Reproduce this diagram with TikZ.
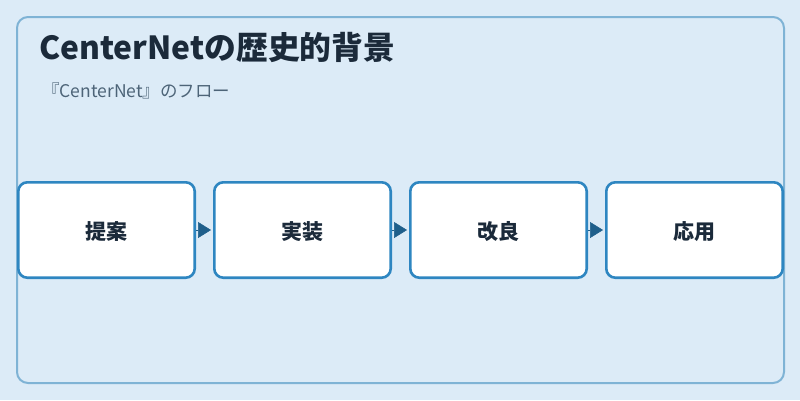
\documentclass[tikz,border=0pt]{standalone}
\usepackage{fontspec}
\setmainfont{Noto Sans CJK JP}
\usetikzlibrary{arrows.meta}
\definecolor{bg}{HTML}{DCEBF7}
\definecolor{framec}{HTML}{7FB3D5}
\definecolor{boxc}{HTML}{2E86C1}
\definecolor{arrowc}{HTML}{1F5F8B}
\definecolor{titlec}{HTML}{1B2A3A}
\definecolor{subc}{HTML}{4D6478}
\newcommand{\lowerlabel}[1]{\raisebox{0pt}[\dimexpr\height+3pt\relax]{#1}}
\begin{document}
\begin{tikzpicture}[x=1pt,y=-1pt,
  stepbox/.style={draw=boxc, fill=white, line width=2.6pt, rounded corners=9pt,
    minimum width=176.4pt, minimum height=95.4pt, inner sep=0pt,
    font=\fontsize{21}{24}\selectfont\bfseries, text=titlec},
  flow/.style={draw=arrowc, line width=0.5pt, -{Triangle[length=13pt,width=16pt]}, arrowc, shorten >=2pt}]
\useasboundingbox (0,0) rectangle (800,400);
\fill[bg] (0,0) rectangle (800,400);
\draw[framec, line width=2pt, rounded corners=11pt] (17,17) rectangle (784,383);
\node[anchor=base west, text=titlec, inner sep=0pt, font=\fontsize{31.8}{36}\selectfont\bfseries] (title) at (39,59) {CenterNetの歴史的背景};
\node[anchor=base west, text=subc, inner sep=0pt, font=\fontsize{17.5}{20}\selectfont] (sub) at (42,97) {『CenterNet』のフロー};
\node[stepbox] (a) at (106.5,230) {\lowerlabel{提案}};
\node[stepbox] (b) at (302.5,230) {\lowerlabel{実装}};
\node[stepbox] (c) at (498.5,230) {\lowerlabel{改良}};
\node[stepbox] (d) at (694.5,230) {\lowerlabel{応用}};
\draw[flow] (a) -- (b);
\draw[flow] (b) -- (c);
\draw[flow] (c) -- (d);
\end{tikzpicture}
\end{document}
